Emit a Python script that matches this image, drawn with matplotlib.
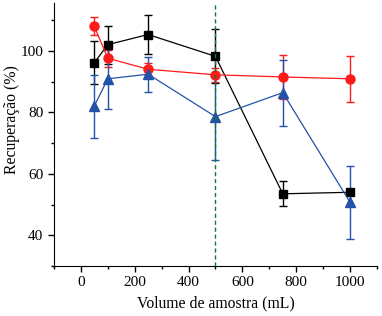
import matplotlib.pyplot as plt
from matplotlib.ticker import MultipleLocator

volume = [50, 100, 250, 500, 750, 1000]

preto = [96.1, 102.0, 105.3, 98.2, 53.5, 54.0]
preto_err = [7.0, 6.2, 6.3, 8.8, 4.1, 0.0]

vermelho = [108.0, 97.6, 94.0, 92.2, 91.5, 90.9]
vermelho_err = [3.0, 2.8, 2.0, 2.3, 7.2, 7.5]

azul = [82.0, 90.9, 92.4, 78.6, 86.4, 50.7]
azul_err = [10.2, 9.8, 5.7, 14.0, 10.7, 12.0]

plt.rcParams['font.family'] = ['Liberation Serif', 'DejaVu Serif']

fig = plt.figure(figsize=(3.82, 3.16), dpi=100)
ax = fig.add_axes([0.141, 0.158, 0.846, 0.832])

ax.errorbar(volume, preto, yerr=preto_err, color='black', marker='s', markersize=6,
            linewidth=0.9, elinewidth=1.0, capsize=3, capthick=1.0)
ax.errorbar(volume, vermelho, yerr=vermelho_err, color='#ff1a1a', marker='o', markersize=6.5,
            linewidth=0.9, elinewidth=1.0, capsize=3, capthick=1.0)
ax.errorbar(volume, azul, yerr=azul_err, color='#2352a8', marker='^', markersize=7,
            linewidth=0.9, elinewidth=1.0, capsize=3, capthick=1.0)

ax.axvline(500, color='#0a7d35', linestyle='--', linewidth=1.0, dashes=(3, 2), zorder=5)

ax.set_xlim(-100, 1100)
ax.set_ylim(30, 115.5)
ax.xaxis.set_major_locator(MultipleLocator(200))
ax.xaxis.set_minor_locator(MultipleLocator(100))
ax.yaxis.set_major_locator(MultipleLocator(20))
ax.yaxis.set_minor_locator(MultipleLocator(10))
ax.tick_params(which='major', direction='out', length=4, width=1, labelsize=11)
ax.tick_params(which='minor', direction='out', length=2, width=1)

ax.spines['top'].set_visible(False)
ax.spines['right'].set_visible(False)

ax.set_xlabel('Volume de amostra (mL)', fontsize=11.3)
ax.set_ylabel('Recuperação (%)', fontsize=11.3)
ax.yaxis.set_label_coords(-0.105, 0.559)

fig.savefig('out.png', dpi=100)
